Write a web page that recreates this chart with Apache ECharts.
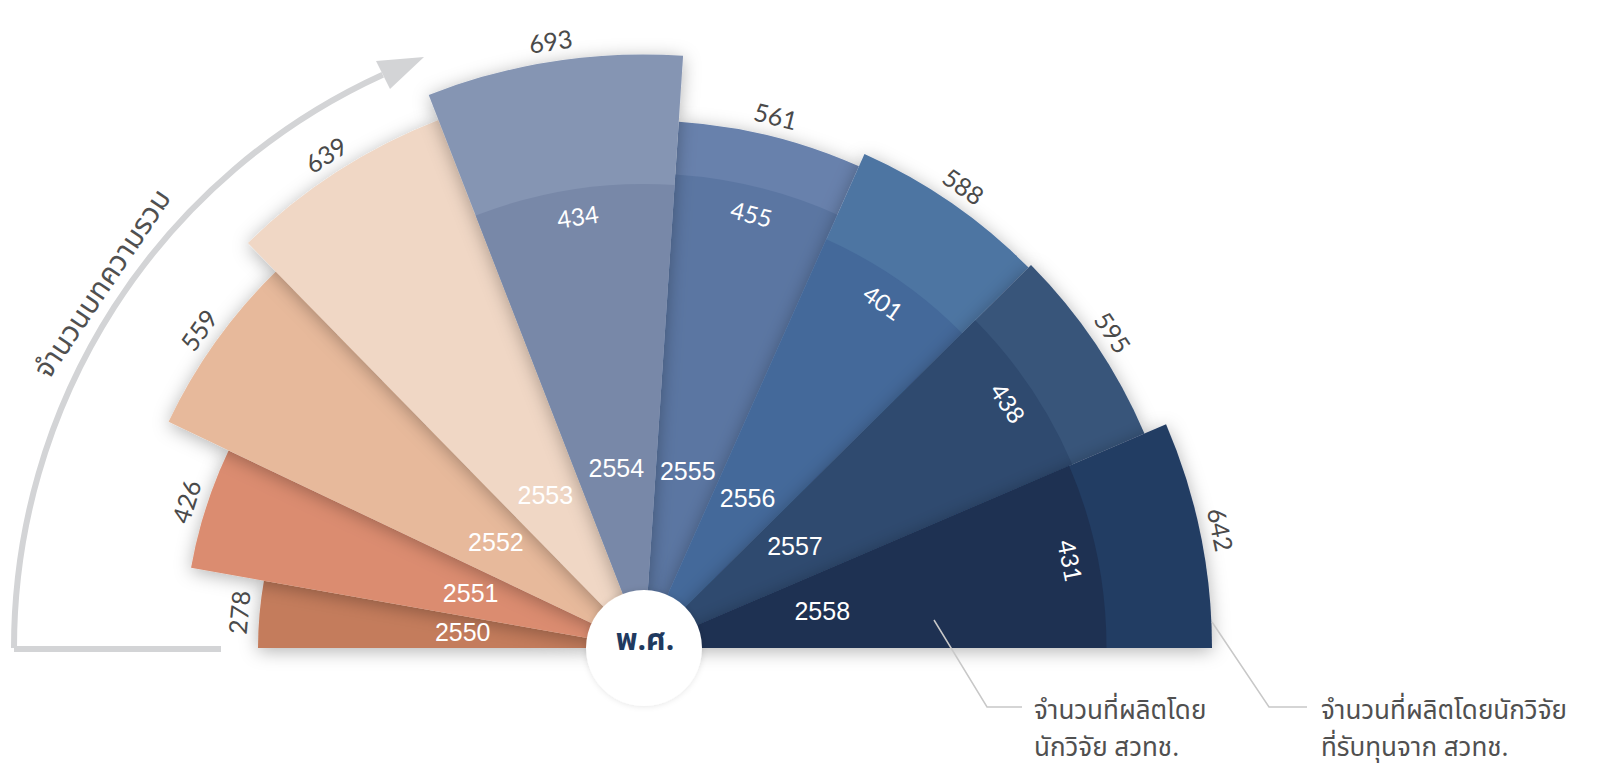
<!DOCTYPE html>
<html>
<head>
<meta charset="utf-8">
<script src="https://cdn.jsdelivr.net/npm/echarts@6/dist/echarts.min.js"></script>
<style>
html,body{margin:0;padding:0;background:#ffffff;}
#chart{width:1621px;height:773px;}
</style>
</head>
<body>
<div id="chart"></div>
<script>
// ---------------- data ----------------
const years = ['2550', '2551', '2552', '2553', '2554', '2555', '2556', '2557', '2558'];
const totalArticles = [278, 426, 559, 639, 693, 561, 588, 595, 642];
const nstdaResearcherArticles = [null, null, null, null, 434, 455, 401, 438, 431];

// ---------------- texts ----------------
const axisTitle = 'จำนวนบทความรวม';
const centerLabel = 'พ.ศ.';
const innerLegend = ['จำนวนที่ผลิตโดย', 'นักวิจัย สวทช.'];
const outerLegend = ['จำนวนที่ผลิตโดยนักวิจัย', 'ที่รับทุนจาก สวทช.'];

// ---------------- styles ----------------
const sectorColors = ['#c47c5c', '#db8c6f', '#e7b99b', '#f0d7c5', '#8595b3', '#6881ac', '#4e74a2', '#37547a', '#243d63'];
const innerColors = [null, null, null, null, '#7888a8', '#5b76a2', '#44699a', '#2f4a6f', '#1e3152'];
const THAI = "'Noto Sans Thai','Noto Sans Thai Looped','Noto Sans','DejaVu Sans',sans-serif";
const NUM = "Lato,'Open Sans',sans-serif";
const YEARF = "'Liberation Sans',Arial,sans-serif";
const RADIUS_AXIS_MIN = -494;

// cumulative angle positions (pie-like: angle proportional to value)
const SUM = totalArticles.reduce((a, b) => a + b, 0);
const starts = [];
let acc = 0;
totalArticles.forEach(v => { starts.push(acc); acc += v; });

function renderItem(params, api) {
  const i = params.dataIndex;
  const cs = params.coordSys;
  const cx = cs.cx, cy = cs.cy;
  const a0 = starts[i], a1 = starts[i] + totalArticles[i];

  function geom(v) {
    const p0 = api.coord([v, a0]);
    const p1 = api.coord([v, a1]);
    const s = Math.atan2(p0[1] - cy, p0[0] - cx);
    const e = Math.atan2(p1[1] - cy, p1[0] - cx);
    let d = e - s;
    while (d > Math.PI) d -= 2 * Math.PI;
    while (d < -Math.PI) d += 2 * Math.PI;
    return { r: Math.hypot(p0[0] - cx, p0[1] - cy), s: s, d: d };
  }

  const g = geom(api.value(0));
  const base = geom(RADIUS_AXIS_MIN);
  const m = g.s + g.d / 2;          // mid angle (screen)
  const tangentRot = -m - Math.PI / 2;
  const z = (i === 4) ? 40 : i * 2;

  const children = [{
    type: 'sector',
    z2: z,
    shape: { cx: cx, cy: cy, r0: base.r, r: g.r, startAngle: g.s, endAngle: g.s + g.d, clockwise: g.d > 0 },
    style: {
      fill: sectorColors[i],
      shadowBlur: 18,
      shadowColor: 'rgba(0,0,0,0.30)',
      shadowOffsetX: 0,
      shadowOffsetY: 3
    }
  }];

  const inner = nstdaResearcherArticles[i];
  if (inner != null) {
    const gi = geom(inner);
    children.push({
      type: 'sector',
      z2: z + 1,
      shape: { cx: cx, cy: cy, r0: base.r, r: gi.r, startAngle: gi.s, endAngle: gi.s + gi.d, clockwise: gi.d > 0 },
      style: { fill: innerColors[i] }
    });
    const ri = gi.r - 27;
    children.push({
      type: 'text', z2: 200,
      x: cx + ri * Math.cos(m), y: cy + ri * Math.sin(m),
      rotation: tangentRot,
      style: { text: String(inner), fill: '#ffffff', font: '24px ' + NUM, align: 'center', verticalAlign: 'middle' }
    });
  }

  const ro = g.r + 21;
  children.push({
    type: 'text', z2: 200,
    x: cx + ro * Math.cos(m), y: cy + ro * Math.sin(m),
    rotation: tangentRot,
    style: { text: String(api.value(0)), fill: '#4a4a4a', font: '25px ' + NUM, align: 'center', verticalAlign: 'middle' }
  });

  const ry = 182;
  children.push({
    type: 'text', z2: 200,
    x: cx + ry * Math.cos(m), y: cy + ry * Math.sin(m),
    style: { text: years[i], fill: '#ffffff', font: '25px ' + YEARF, align: 'center', verticalAlign: 'middle' }
  });

  return { type: 'group', children: children };
}

const chart = echarts.init(document.getElementById('chart'), null, { renderer: 'svg' });

const option = {
  animation: false,
  backgroundColor: '#ffffff',
  polar: { center: [644, 648], radius: 597 },
  angleAxis: {
    type: 'value', min: 0, max: SUM, startAngle: 180, endAngle: 0, clockwise: true,
    show: false, axisLine: { show: false }, axisLabel: { show: false }, axisTick: { show: false }, splitLine: { show: false }
  },
  radiusAxis: {
    type: 'value', min: RADIUS_AXIS_MIN, max: 700,
    show: false, axisLine: { show: false }, axisLabel: { show: false }, axisTick: { show: false }, splitLine: { show: false }
  },
  series: [{
    type: 'custom',
    coordinateSystem: 'polar',
    clip: false,
    data: years.map((y, i) => [totalArticles[i], starts[i] + totalArticles[i] / 2]),
    encode: { radius: 0, angle: 1 },
    renderItem: renderItem
  }],
  graphic: [
    {
      type: 'line', z: 1,
      shape: { x1: 221, y1: 649, x2: 14, y2: 649 },
      style: { stroke: '#d3d4d6', lineWidth: 6 }
    },
    {
      type: 'arc', z: 1,
      shape: { cx: 644, cy: 648, r: 630, startAngle: Math.PI, endAngle: Math.PI + 65.5 * Math.PI / 180, clockwise: true },
      style: { fill: 'none', stroke: '#d3d4d6', lineWidth: 6 }
    },
    {
      type: 'polygon', z: 1,
      shape: { points: [[424, 57], [376, 61], [390, 89]] },
      style: { fill: '#d3d4d6' }
    },
    {
      type: 'text', z: 1, x: 103, y: 284, rotation: 56 * Math.PI / 180,
      style: { text: axisTitle, fill: '#505050', font: '29px ' + THAI, align: 'center', verticalAlign: 'middle' }
    },
    {
      type: 'circle', z: 100,
      shape: { cx: 644, cy: 648, r: 58 },
      style: { fill: '#ffffff', shadowBlur: 6, shadowColor: 'rgba(0,0,0,0.12)' }
    },
    {
      type: 'text', z: 101, x: 645, y: 641,
      style: { text: centerLabel, fill: '#1f3a60', font: 'bold 30px ' + THAI, align: 'center', verticalAlign: 'middle' }
    },
    {
      type: 'polyline', z: 100,
      shape: { points: [[934, 620], [987, 707], [1022, 707]] },
      style: { stroke: '#c8c8c8', lineWidth: 1.5, fill: null }
    },
    {
      type: 'polyline', z: 100,
      shape: { points: [[1212, 622], [1269, 707], [1307, 707]] },
      style: { stroke: '#c8c8c8', lineWidth: 1.5, fill: null }
    },
    {
      type: 'text', z: 100, x: 1034, y: 729,
      style: {
        text: innerLegend.join('\n'), fill: '#505050', fontSize: 26, fontFamily: THAI,
        lineHeight: 37, align: 'left', verticalAlign: 'middle'
      }
    },
    {
      type: 'text', z: 100, x: 1321, y: 729,
      style: {
        text: outerLegend.join('\n'), fill: '#505050', fontSize: 26, fontFamily: THAI,
        lineHeight: 37, align: 'left', verticalAlign: 'middle'
      }
    }
  ]
};

chart.setOption(option);
</script>
</body>
</html>
